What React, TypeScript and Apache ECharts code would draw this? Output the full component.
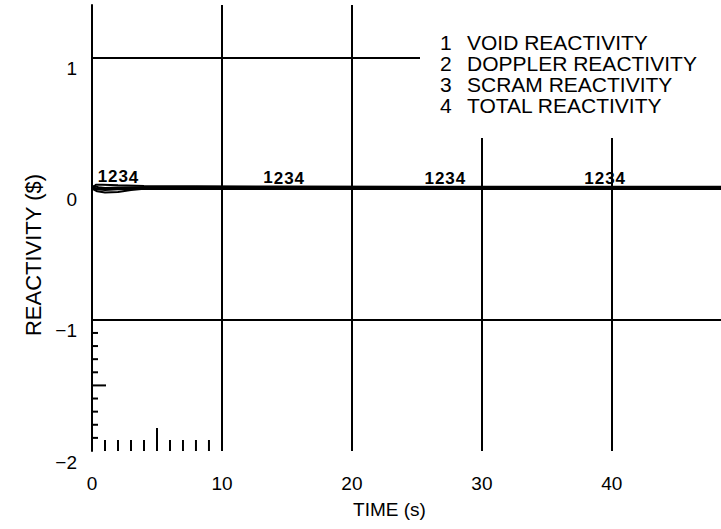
import React, { useEffect, useRef } from "react";
import * as echarts from "echarts";

const seriesNames = ["VOID REACTIVITY", "DOPPLER REACTIVITY", "SCRAM REACTIVITY", "TOTAL REACTIVITY"];
const legendNumbers = ["1", "2", "3", "4"];
const curveDigits = ["1", "2", "3", "4"];

// time (s), reactivity ($)
const voidData = [[0, 0.0], [0.3, 0.03], [0.8, 0.03], [2, 0.025], [4, 0.02], [8, 0.018], [15, 0.016], [25, 0.015], [35, 0.014], [48.4, 0.014]];
const dopplerData = [[0, 0.0], [0.4, -0.02], [1, -0.03], [2, -0.025], [3, -0.01], [4, 0.0], [6, 0.008], [10, 0.01], [20, 0.01], [30, 0.01], [40, 0.01], [48.4, 0.01]];
const scramData = [[0, 0.02], [0.5, 0.01], [1, 0.005], [2, 0.008], [5, 0.01], [10, 0.012], [20, 0.012], [30, 0.012], [40, 0.012], [48.4, 0.012]];
const totalData = [[0, 0.02], [0.4, -0.005], [1, -0.01], [2, -0.005], [4, 0.005], [8, 0.01], [20, 0.01], [30, 0.01], [40, 0.01], [48.4, 0.01]];
const allData = [voidData, dopplerData, scramData, totalData];

// times where each curve carries its number label
const curveLabelTimes = [
  [0.8, 13.55, 25.95, 38.25],
  [1.6, 14.35, 26.75, 39.05],
  [2.4, 15.15, 27.55, 39.85],
  [3.2, 15.95, 28.35, 40.65],
];

const xTickValues = [0, 10, 20, 30, 40];
const xGridLines = [10, 20, 30, 40];
const yTickValues = [-2, -1, 0, 1];
const yGridLines = [1, 0, -1];
const bottomMinorTicks = [1, 2, 3, 4, 5, 6, 7, 8, 9];
const leftMinorTicks = [-1.9, -1.8, -1.7, -1.6, -1.5, -1.4, -1.3, -1.2, -1.1];

const X_MIN = 0;
const X_MAX = 48.4;
const Y_MIN = -2;
const Y_MAX = 1.4;

const FONT = "Liberation Sans, Arial, Helvetica, sans-serif";

function interp(data: number[][], t: number): number {
  for (let i = 0; i < data.length - 1; i++) {
    const [t0, v0] = data[i];
    const [t1, v1] = data[i + 1];
    if (t >= t0 && t <= t1) return v0 + ((v1 - v0) * (t - t0)) / (t1 - t0);
  }
  return data[data.length - 1][1];
}

function bundleTop(t: number): number {
  return Math.max(...allData.map((d) => interp(d, t)));
}

function fmtNum(v: number): string {
  return v < 0 ? "\u2212" + String(Math.abs(v)) : String(v);
}

export default function App() {
  const ref = useRef<HTMLDivElement>(null);

  useEffect(() => {
    if (!ref.current) return;
    const chart = echarts.init(ref.current, undefined, { renderer: "svg" });

    const gridLineStyle = { color: "#000", width: 2, type: "solid" };

    const lineSeries = seriesNames.map((name, i) => ({
      name,
      type: "line",
      data: allData[i],
      showSymbol: false,
      symbol: "none",
      lineStyle: { color: "#000", width: 2 },
      itemStyle: { color: "#000" },
      z: 2,
      markPoint: {
        symbol: "circle",
        symbolSize: 0,
        silent: true,
        label: {
          show: true,
          position: "top",
          distance: 0,
          formatter: curveDigits[i],
          color: "#000",
          fontFamily: FONT,
          fontWeight: "bold",
          fontSize: 17,
        },
        data: curveLabelTimes[i].map((t) => ({ coord: [t, bundleTop(t)] })),
      },
      ...(i === 0
        ? {
            markLine: {
              silent: true,
              symbol: "none",
              label: { show: false },
              lineStyle: gridLineStyle,
              data: [
                ...yGridLines.map((v) => ({ yAxis: v })),
                ...xGridLines.map((v) => ({ xAxis: v })),
              ],
            },
          }
        : {}),
    }));

    const option = {
      animation: false,
      backgroundColor: "#fff",
      grid: { left: 92, right: 0, top: 5, bottom: 78, containLabel: false },
      xAxis: {
        type: "value",
        min: X_MIN,
        max: X_MAX,
        interval: 10,
        name: "TIME (s)",
        nameLocation: "middle",
        nameGap: 49,
        nameTextStyle: { color: "#000", fontFamily: FONT, fontSize: 19, padding: [0, 34, 0, 0] },
        axisLine: { show: true, lineStyle: { color: "#000", width: 2 } },
        axisTick: { show: false },
        axisLabel: {
          color: "#000",
          fontFamily: FONT,
          fontSize: 19,
          margin: 23,
          showMaxLabel: false,
          formatter: (v: number) => (xTickValues.includes(v) ? fmtNum(v) : ""),
        },
        splitLine: { show: false },
      },
      yAxis: {
        type: "value",
        min: Y_MIN,
        max: Y_MAX,
        interval: 1,
        name: "REACTIVITY ($)",
        nameLocation: "middle",
        nameGap: 47,
        nameTextStyle: { color: "#000", fontFamily: FONT, fontSize: 22, padding: [0, 54, 0, 0] },
        axisLine: { show: true, lineStyle: { color: "#000", width: 2 } },
        axisTick: { show: false },
        axisLabel: {
          color: "#000",
          fontFamily: FONT,
          fontSize: 19,
          margin: 15,
          showMaxLabel: false,
          verticalAlign: "top",
          lineHeight: 22,
          formatter: (v: number) => (yTickValues.includes(v) ? fmtNum(v) : ""),
        },
        splitLine: { show: false },
      },
      legend: {
        data: seriesNames,
        orient: "vertical",
        left: 435,
        top: 32,
        padding: 0,
        itemGap: 0,
        itemWidth: 0,
        itemHeight: 0,
        icon: "rect",
        selectedMode: false,
        z: 60,
        formatter: (name: string) => `{n|${legendNumbers[seriesNames.indexOf(name)]}}{t|${name}}`,
        textStyle: {
          color: "#000",
          fontFamily: FONT,
          fontSize: 21,
          lineHeight: 20,
          rich: {
            n: { width: 27, color: "#000", fontFamily: FONT, fontSize: 21, lineHeight: 20 },
            t: { color: "#000", fontFamily: FONT, fontSize: 21, lineHeight: 20 },
          },
        },
      },
      graphic: [
        {
          type: "rect",
          z: 50,
          silent: true,
          shape: { x: 420, y: 0, width: 301, height: 138 },
          style: { fill: "#fff" },
        },
      ],
      series: [
        ...lineSeries,
        {
          type: "custom",
          silent: true,
          z: 3,
          data: bottomMinorTicks.map((t) => [t, Y_MIN]),
          renderItem: (_p: any, api: any) => {
            const t = api.value(0);
            const p = api.coord([t, api.value(1)]);
            const len = t === 5 ? 23 : 11;
            return {
              type: "line",
              shape: { x1: p[0], y1: p[1], x2: p[0], y2: p[1] - len },
              style: { stroke: "#000", lineWidth: 2 },
            };
          },
        },
        {
          type: "custom",
          silent: true,
          z: 3,
          data: leftMinorTicks.map((v) => [X_MIN, v]),
          renderItem: (_p: any, api: any) => {
            const v = api.value(1);
            const p = api.coord([api.value(0), v]);
            const len = Math.abs(v + 1.5) < 1e-6 ? 14 : 6;
            return {
              type: "line",
              shape: { x1: p[0], y1: p[1], x2: p[0] + len, y2: p[1] },
              style: { stroke: "#000", lineWidth: 2 },
            };
          },
        },
      ],
    };

    chart.setOption(option as any);
    return () => chart.dispose();
  }, []);

  return (
    <div
      ref={ref}
      style={{ position: "fixed", left: 0, top: 0, width: 721, height: 529, background: "#fff" }}
    />
  );
}
